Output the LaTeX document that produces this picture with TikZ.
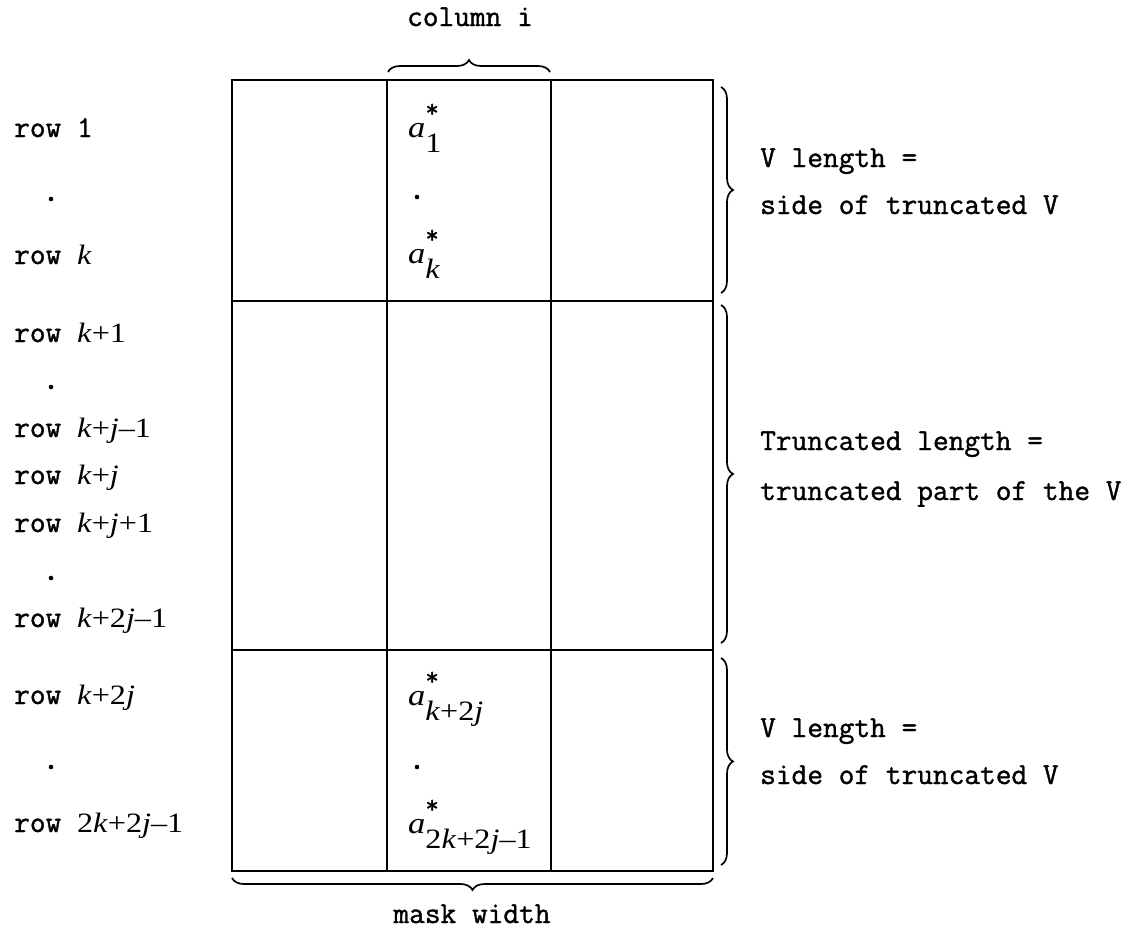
\documentclass[tikz,border=0pt]{standalone}
\usepackage{fontspec}
\usetikzlibrary{decorations.pathreplacing}
\newfontfamily\tyfont{Latin Modern Mono}[FakeBold=1.2]
\newfontfamily\mathserif{Liberation Serif}[FakeStretch=1.15]
\newcommand\mfont{\fontsize{28}{33}\selectfont\mathserif}
\newcommand\mi[1]{{\itshape #1\/}}
\newcommand\mk[1]{{\mfont #1}}
\newcommand\astar[1]{{\fontsize{30}{34}\selectfont\mathserif\itshape a\/\upshape\rlap{\raisebox{0.66em}{\fontsize{26}{30}\selectfont\tyfont*}}\raisebox{-0.5em}{\mfont #1}}}
\tikzset{
  lbl/.style={anchor=base west, inner sep=0pt, font=\fontsize{30.5}{36}\selectfont\tyfont},
  ctr/.style={anchor=base, inner sep=0pt, font=\fontsize{30.5}{36}\selectfont\tyfont},
  dotmark/.style={circle, fill=black, inner sep=0pt, minimum size=4.6pt},
  gridline/.style={line width=1.8pt, line cap=rect},
  brc/.style={decorate, line width=1.7pt, decoration={brace, amplitude=12pt}},
}
\begin{document}
\begin{tikzpicture}[x=1pt,y=-1pt]
\useasboundingbox (0,0) rectangle (1133,932);
% grid
\coordinate (g00) at (232,80);
\coordinate (g11) at (713,871);
\draw[gridline] (g00) rectangle (g11);
\draw[gridline] (387,80) -- (387,871);
\draw[gridline] (551,80) -- (551,871);
\draw[gridline] (232,301) -- (713,301);
\draw[gridline] (232,650) -- (713,650);
% top brace
\coordinate (tb1) at (388,72);
\coordinate (tb2) at (550,72);
\draw[brc] (tb1) -- (tb2);
\node[ctr] (coli) at (470,26) {column i};
% bottom brace
\coordinate (bb1) at (713,878);
\coordinate (bb2) at (232,878);
\draw[brc] (bb1) -- (bb2);
\node[ctr] (mw) at (472,923) {mask width};
% right braces
\coordinate (rb1) at (721,87);
\coordinate (rb2) at (721,293);
\coordinate (rb3) at (721,305);
\coordinate (rb4) at (721,643);
\coordinate (rb5) at (721,658);
\coordinate (rb6) at (721,865);
\draw[brc] (rb1) -- (rb2);
\draw[brc] (rb3) -- (rb4);
\draw[brc] (rb5) -- (rb6);
\node[lbl] (v1a) at (760,167) {V length =};
\node[lbl] (v1b) at (760,214) {side of truncated V};
\node[lbl] (t1a) at (760,450) {Truncated length =};
\node[lbl] (t1b) at (760,500) {truncated part of the V};
\node[lbl] (v2a) at (760,737) {V length =};
\node[lbl] (v2b) at (760,784) {side of truncated V};
% row labels
\node[lbl] (r1) at (14,137) {row 1};
\node[dotmark] (d1) at (51,199) {};
\node[lbl] (rk) at (14,264) {row \mk{\mi{k}}};
\node[lbl] (rk1) at (14,342) {row \mk{\mi{k}+1}};
\node[dotmark] (d2) at (51,387) {};
\node[lbl] (rkj1) at (14,437) {row \mk{\mi{k}+\mi{j}–1}};
\node[lbl] (rkj) at (14,484) {row \mk{\mi{k}+\mi{j}}};
\node[lbl] (rkjp) at (14,532) {row \mk{\mi{k}+\mi{j}+1}};
\node[dotmark] (d3) at (51,578) {};
\node[lbl] (rk2j1) at (14,627) {row \mk{\mi{k}+2\mi{j}–1}};
\node[lbl] (rk2j) at (14,704) {row \mk{\mi{k}+2\mi{j}}};
\node[dotmark] (d4) at (51,767) {};
\node[lbl] (rlast) at (14,832) {row \mk{2\mi{k}+2\mi{j}–1}};
% column entries
\node[anchor=base west, inner sep=0pt] (a1) at (408,137) {\astar{1}};
\node[dotmark] (d5) at (417,197) {};
\node[anchor=base west, inner sep=0pt] (ak) at (408,263) {\astar{\mi{k}}};
\node[anchor=base west, inner sep=0pt] (ak2j) at (408,705) {\astar{\mi{k}+2\mi{j}}};
\node[dotmark] (d6) at (417,767) {};
\node[anchor=base west, inner sep=0pt] (alast) at (408,833) {\astar{2\mi{k}+2\mi{j}–1}};
\end{tikzpicture}
\end{document}
